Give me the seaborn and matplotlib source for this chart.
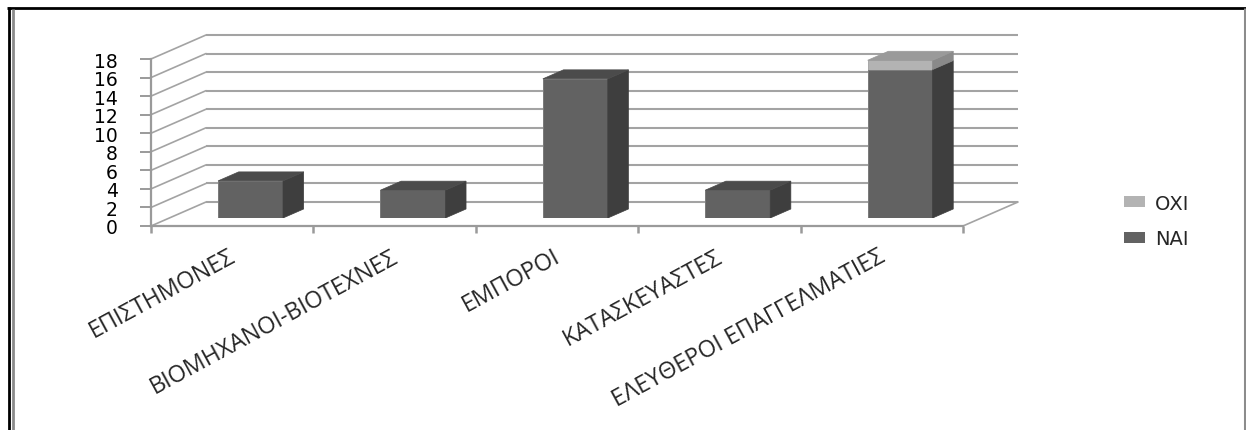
import matplotlib
matplotlib.use("Agg")
import matplotlib.pyplot as plt
from matplotlib.patches import Polygon, Patch
from matplotlib.lines import Line2D
from matplotlib.transforms import ScaledTranslation
import seaborn as sns

# ---- data ----
categories = ["ΕΠΙΣΤΗΜΟΝΕΣ", "ΒΙΟΜΗΧΑΝΟΙ-ΒΙΟΤΕΧΝΕΣ", "ΕΜΠΟΡΟΙ",
              "ΚΑΤΑΣΚΕΥΑΣΤΕΣ", "ΕΛΕΥΘΕΡΟΙ ΕΠΑΓΓΕΛΜΑΤΙΕΣ"]
nai = [4, 3, 15, 3, 16]
oxi = [0, 0, 0, 0, 1]
y_ticks = [0, 2, 4, 6, 8, 10, 12, 14, 16, 18]
series_names = ["ΟΧΙ", "ΝΑΙ"]

totals = [n + o for n, o in zip(nai, oxi)]

# ---- styling ----
W, H = 1246, 431
DPI = 100
NAI_FRONT, NAI_SIDE, NAI_TOP = "#626262", "#3e3e3e", "#4b4b4b"
OXI_FRONT, OXI_SIDE, OXI_TOP = "#b3b3b3", "#8a8a8a", "#9a9a9a"
GRID = "#a3a3a3"
AXIS = "#9a9a9a"

sns.set_theme(style="white")
plt.rcParams["font.family"] = ["DejaVu Sans"]

fig = plt.figure(figsize=(W / DPI, H / DPI), dpi=DPI)

# pixel geometry of the oblique floor/back wall
left_px, right_px = 151, 963          # front category axis
base_px, top_px = 227, 60             # value 0 and value 18 on front axis
depth_dx_px, depth_dy_px = 55, 24     # offset to the back wall

ux = (right_px - left_px) / len(categories)      # px per category
uy = (base_px - top_px) / 18.0                   # px per value unit
D_X = depth_dx_px / ux
D_Y = depth_dy_px / uy

ax_w = right_px - left_px + depth_dx_px
ax_h = base_px - top_px + depth_dy_px


def axes_rect(x0_px, y0_px_from_top):
    return [x0_px / W, (H - y0_px_from_top) / H, ax_w / W, ax_h / H]


ax = fig.add_axes(axes_rect(left_px, base_px))
xlim = (-0.5, len(categories) - 0.5 + D_X)
ylim = (0, 18 + D_Y)
ax.set_xlim(*xlim)
ax.set_ylim(*ylim)
ax.patch.set_alpha(0)

# back wall and side wall gridlines
for v in y_ticks:
    ax.plot([-0.5 + D_X, len(categories) - 0.5 + D_X], [v + D_Y, v + D_Y],
            color=GRID, lw=1.5, zorder=1, clip_on=False, solid_capstyle="butt")
    ax.plot([-0.5, -0.5 + D_X], [v, v + D_Y],
            color=GRID, lw=1.2, zorder=1, clip_on=False)
# right floor edge
ax.plot([len(categories) - 0.5, len(categories) - 0.5 + D_X], [0, D_Y],
        color=GRID, lw=1.2, zorder=1, clip_on=False)

for side in ["top", "right"]:
    ax.spines[side].set_visible(False)
ax.spines["left"].set_bounds(0, 18)
ax.spines["bottom"].set_bounds(-0.5, len(categories) - 0.5)
for side in ["left", "bottom"]:
    ax.spines[side].set_color(AXIS)
    ax.spines[side].set_linewidth(1.6)

ax.set_yticks(y_ticks)
ax.set_yticklabels([str(v) for v in y_ticks], fontsize=13.5, color="black")
ax.tick_params(axis="y", direction="out", length=8, width=1.4, color=AXIS, pad=16,
               left=True)

ax.set_xticks([i - 0.5 for i in range(len(categories) + 1)])
ax.set_xticklabels([])
ax.tick_params(axis="x", which="major", direction="out", length=5, width=1.8,
               color=AXIS, bottom=True)
ax.set_xticks(range(len(categories)), minor=True)
ax.set_xticklabels(categories, minor=True, rotation=28.5, ha="right",
                   va="top", rotation_mode="anchor", fontsize=16.8,
                   family=["Open Sans", "DejaVu Sans"])
ax.tick_params(axis="x", which="minor", length=0, pad=13)
shift = ScaledTranslation(-4 / DPI, 0, fig.dpi_scale_trans)
for lab in ax.get_xticklabels(minor=True):
    lab.set_transform(lab.get_transform() + shift)

# bars sit one third of the way into the depth
bar_depth0 = 1 / 3
axb = fig.add_axes(axes_rect(left_px + bar_depth0 * depth_dx_px,
                             base_px - bar_depth0 * depth_dy_px))
axb.patch.set_alpha(0)
axb.axis("off")

sns.barplot(x=categories, y=totals, color=OXI_FRONT, saturation=1, width=0.4,
            edgecolor="#a0a0a0", linewidth=0.6, ax=axb)
n_total = len(axb.patches)
sns.barplot(x=categories, y=nai, color=NAI_FRONT, saturation=1, width=0.4,
            edgecolor="#7a7a7a", linewidth=0.6, ax=axb)
axb.set_xlim(*xlim)
axb.set_ylim(*ylim)
axb.axis("off")

# oblique faces for each bar
bx = 0.375 * D_X
by = 0.375 * D_Y
total_patches = axb.patches[:n_total]
for i, p in enumerate(total_patches):
    x0 = p.get_x()
    x1 = x0 + p.get_width()
    n, t = nai[i], totals[i]
    faces = [
        ([(x1, 0), (x1 + bx, by), (x1 + bx, n + by), (x1, n)], NAI_SIDE),
    ]
    if t > n:
        faces.append(([(x1, n), (x1 + bx, n + by), (x1 + bx, t + by), (x1, t)], OXI_SIDE))
        top_col = OXI_TOP
    else:
        top_col = NAI_TOP
    faces.append(([(x0, t), (x0 + bx, t + by), (x1 + bx, t + by), (x1, t)], top_col))
    for pts, col in faces:
        axb.add_patch(Polygon(pts, closed=True, facecolor=col, edgecolor=col,
                              lw=0.5, zorder=3))

# legend
handles = [Patch(facecolor=OXI_FRONT, edgecolor="none"),
           Patch(facecolor=NAI_FRONT, edgecolor="none")]
fig.legend(handles, series_names, loc="center left",
           bbox_to_anchor=(1124 / W, (H - 222) / H), frameon=False,
           fontsize=14, handlelength=1.1, handleheight=0.5,
           handletextpad=0.5, labelspacing=0.85, borderpad=0, borderaxespad=0)

# page frame
def fig_line(xs, ys, color, lw):
    fig.add_artist(Line2D([x / W for x in xs], [1 - y / H for y in ys],
                          color=color, lw=lw, transform=fig.transFigure,
                          solid_capstyle="butt"))

fig_line([7, 1246], [8.5, 8.5], "black", 2.0)
fig_line([8.5, 8.5], [8, H], "black", 2.0)
fig_line([13, 13], [10, H], "#8c8c8c", 2.0)
fig_line([1244.5, 1244.5], [9, H], "#8c8c8c", 2.2)

fig.savefig("out.png", dpi=DPI, facecolor="white")
